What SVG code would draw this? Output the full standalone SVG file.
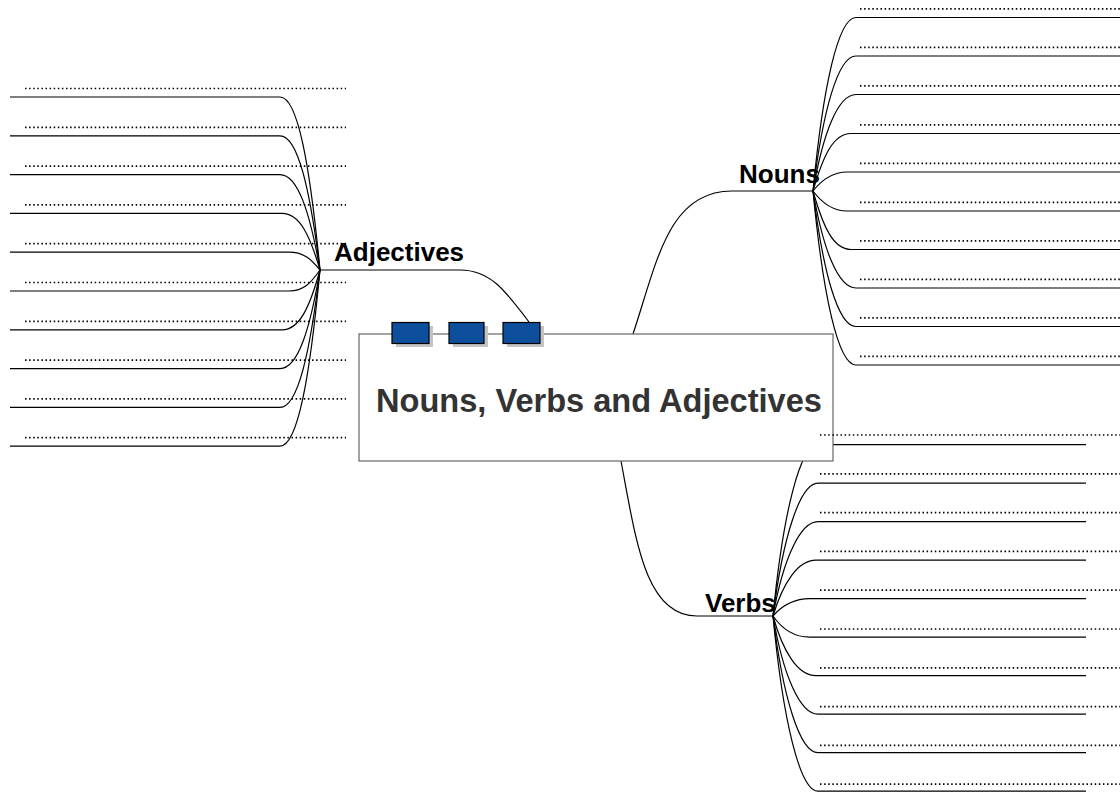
<svg xmlns="http://www.w3.org/2000/svg" width="1120" height="792" viewBox="0 0 1120 792">
<style>
.bg{fill:#ffffff}
.con{fill:none;stroke:#000;stroke-width:1.2}
.dot{fill:none;stroke:#000;stroke-width:1.7;stroke-dasharray:1.5 2.6}
.lbl{font-family:"Liberation Sans",Arial,sans-serif;font-weight:bold;font-size:26px;fill:#000}
.title{font-family:"Liberation Sans",Arial,sans-serif;font-weight:bold;font-size:32.6px;fill:#333333}
.box{fill:#ffffff;stroke:#666666;stroke-width:1.2}
.tab{fill:#0d4f9c;stroke:#000;stroke-width:1.2}
.shadow{fill:#c4c4c4}
</style>
<rect class="bg" x="0" y="0" width="1120" height="792"/>

<g id="connectors">
  <path class="con" d="M320,270 H460 C490,270 505,290 529,322"/>
  <path class="con" d="M633,334 C657,262 668,191 732,191 H813"/>
  <path class="con" d="M621,461 C636,540 645,616 697,616 H773"/>
  <path class="con" d="M10,97 H280 C298,97 310,166.2 320,270"/>
  <path class="con" d="M10,135.8 H280 C298,135.8 310,189.5 320,270"/>
  <path class="con" d="M10,174.6 H280 C298,174.6 310,212.8 320,270"/>
  <path class="con" d="M10,213.4 H282 C300,213.4 310,236 320,270"/>
  <path class="con" d="M10,252.2 H289 C304,252.2 311,259.3 320,270"/>
  <path class="con" d="M10,291 H289 C304,291 311,282.6 320,270"/>
  <path class="con" d="M10,329.8 H282 C300,329.8 310,305.9 320,270"/>
  <path class="con" d="M10,368.6 H280 C298,368.6 310,329.2 320,270"/>
  <path class="con" d="M10,407.4 H280 C298,407.4 310,352.4 320,270"/>
  <path class="con" d="M10,446.2 H280 C298,446.2 310,375.7 320,270"/>
  <path class="con" d="M813,191 C823,86.9 838,17.5 856,17.5 H1120"/>
  <path class="con" d="M813,191 C823,110 838,56 856,56 H1120"/>
  <path class="con" d="M813,191 C823,133.1 838,94.5 856,94.5 H1120"/>
  <path class="con" d="M813,191 C823,156.5 833,133.5 851,133.5 H1120"/>
  <path class="con" d="M813,191 C822,179.6 832,172 847,172 H1120"/>
  <path class="con" d="M813,191 C822,203 832,211 847,211 H1120"/>
  <path class="con" d="M813,191 C823,226.1 833,249.5 851,249.5 H1120"/>
  <path class="con" d="M813,191 C823,249.2 838,288 856,288 H1120"/>
  <path class="con" d="M813,191 C823,272.3 838,326.5 856,326.5 H1120"/>
  <path class="con" d="M813,191 C823,295.4 838,365 856,365 H1120"/>
  <path class="con" d="M773,616 C783,513.2 800,444.7 818,444.7 H1086"/>
  <path class="con" d="M773,616 C783,536.4 800,483.2 818,483.2 H1086"/>
  <path class="con" d="M773,616 C783,559.5 800,521.7 818,521.7 H1086"/>
  <path class="con" d="M773,616 C783,582.6 798,560.2 816,560.2 H1086"/>
  <path class="con" d="M773,616 C782,605.7 795,598.7 810,598.7 H1086"/>
  <path class="con" d="M773,616 C782,628.9 795,637.2 810,637.2 H1086"/>
  <path class="con" d="M773,616 C783,652 798,675.7 816,675.7 H1086"/>
  <path class="con" d="M773,616 C783,675.2 800,714.2 818,714.2 H1086"/>
  <path class="con" d="M773,616 C783,698.3 800,752.7 818,752.7 H1086"/>
  <path class="con" d="M773,616 C783,721.4 800,791.2 818,791.2 H1086"/>
</g>

<g id="central">
  <rect class="box" x="359" y="334" width="474" height="127"/>
  <rect class="shadow" x="396" y="326" width="37" height="21"/>
  <rect class="tab" x="392" y="322.5" width="37" height="21"/>
  <rect class="shadow" x="453" y="326" width="35" height="21"/>
  <rect class="tab" x="449" y="322.5" width="35" height="21"/>
  <rect class="shadow" x="507" y="326" width="37" height="21"/>
  <rect class="tab" x="503" y="322.5" width="37" height="21"/>
  <text class="title" x="599" y="412" text-anchor="middle">Nouns, Verbs and Adjectives</text>
</g>

<g id="adjectives">
  <text class="lbl" x="334" y="261">Adjectives</text>
</g>
<g id="nouns">
  <text class="lbl" x="739" y="183">Nouns</text>
</g>
<g id="verbs">
  <text class="lbl" x="705" y="612">Verbs</text>
</g>

<g id="adjective-leaves">
  <g id="adj-1"><line class="dot" x1="25" y1="88.5" x2="346" y2="88.5"/></g>
  <g id="adj-2"><line class="dot" x1="25" y1="127.3" x2="346" y2="127.3"/></g>
  <g id="adj-3"><line class="dot" x1="25" y1="166.1" x2="346" y2="166.1"/></g>
  <g id="adj-4"><line class="dot" x1="25" y1="204.9" x2="346" y2="204.9"/></g>
  <g id="adj-5"><line class="dot" x1="25" y1="243.7" x2="346" y2="243.7"/></g>
  <g id="adj-6"><line class="dot" x1="25" y1="282.5" x2="346" y2="282.5"/></g>
  <g id="adj-7"><line class="dot" x1="25" y1="321.3" x2="346" y2="321.3"/></g>
  <g id="adj-8"><line class="dot" x1="25" y1="360.1" x2="346" y2="360.1"/></g>
  <g id="adj-9"><line class="dot" x1="25" y1="398.9" x2="346" y2="398.9"/></g>
  <g id="adj-10"><line class="dot" x1="25" y1="437.7" x2="346" y2="437.7"/></g>
</g>

<g id="noun-leaves">
  <g id="noun-1"><line class="dot" x1="860" y1="8.8" x2="1120" y2="8.8"/></g>
  <g id="noun-2"><line class="dot" x1="860" y1="47.3" x2="1120" y2="47.3"/></g>
  <g id="noun-3"><line class="dot" x1="860" y1="85.8" x2="1120" y2="85.8"/></g>
  <g id="noun-4"><line class="dot" x1="860" y1="124.8" x2="1120" y2="124.8"/></g>
  <g id="noun-5"><line class="dot" x1="860" y1="163.3" x2="1120" y2="163.3"/></g>
  <g id="noun-6"><line class="dot" x1="860" y1="202.3" x2="1120" y2="202.3"/></g>
  <g id="noun-7"><line class="dot" x1="860" y1="240.8" x2="1120" y2="240.8"/></g>
  <g id="noun-8"><line class="dot" x1="860" y1="279.3" x2="1120" y2="279.3"/></g>
  <g id="noun-9"><line class="dot" x1="860" y1="317.8" x2="1120" y2="317.8"/></g>
  <g id="noun-10"><line class="dot" x1="860" y1="356.3" x2="1120" y2="356.3"/></g>
</g>

<g id="verb-leaves">
  <g id="verb-1"><line class="dot" x1="820" y1="435" x2="1120" y2="435"/></g>
  <g id="verb-2"><line class="dot" x1="820" y1="473.8" x2="1120" y2="473.8"/></g>
  <g id="verb-3"><line class="dot" x1="820" y1="512.6" x2="1120" y2="512.6"/></g>
  <g id="verb-4"><line class="dot" x1="820" y1="551.4" x2="1120" y2="551.4"/></g>
  <g id="verb-5"><line class="dot" x1="820" y1="590.2" x2="1120" y2="590.2"/></g>
  <g id="verb-6"><line class="dot" x1="820" y1="629" x2="1120" y2="629"/></g>
  <g id="verb-7"><line class="dot" x1="820" y1="667.8" x2="1120" y2="667.8"/></g>
  <g id="verb-8"><line class="dot" x1="820" y1="706.6" x2="1120" y2="706.6"/></g>
  <g id="verb-9"><line class="dot" x1="820" y1="745.4" x2="1120" y2="745.4"/></g>
  <g id="verb-10"><line class="dot" x1="820" y1="784.2" x2="1120" y2="784.2"/></g>
</g>
</svg>
